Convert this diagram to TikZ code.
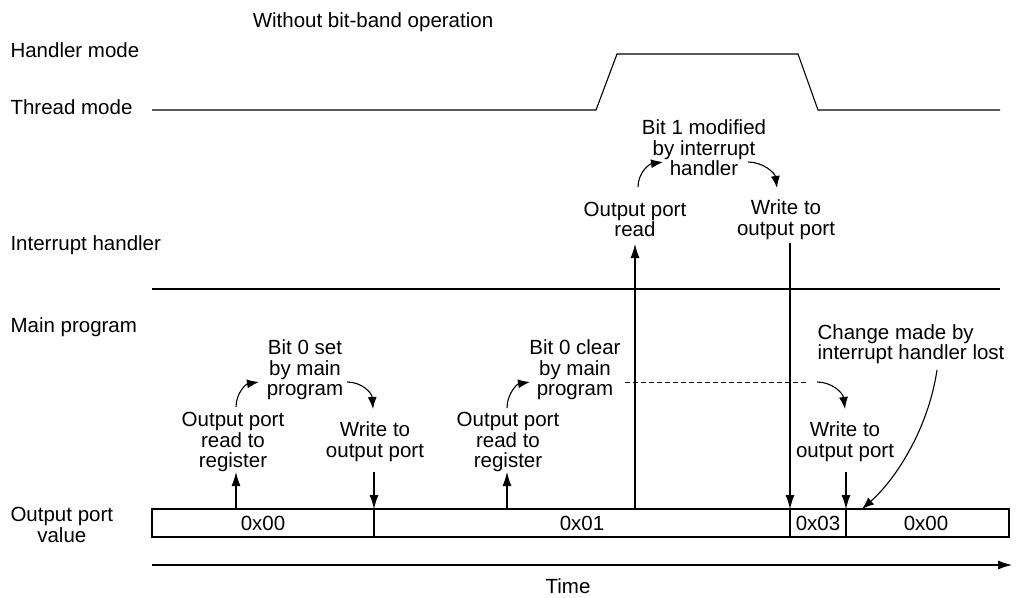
\documentclass[tikz,border=0pt]{standalone}
\usepackage{fontspec}
\setmainfont{Liberation Sans}
\usetikzlibrary{arrows.meta}
\begin{document}
\begin{tikzpicture}[x=1pt,y=-1pt,
  font=\fontsize{20.5}{20.5}\selectfont,
  line width=1.1pt,
  txt/.style={inner sep=0pt, align=center},
  lefttxt/.style={inner sep=0pt, anchor=west, align=left},
  varrow/.style={-{Latex[length=14pt,width=9pt]}},
  carrow/.style={-{Latex[length=12pt,width=9pt]}},
  dashline/.style={dashed, dash pattern=on 5pt off 3pt, line width=0.8pt}]
\useasboundingbox (0,0) rectangle (1016,597);

% left labels and title
\node[txt] (title) at (373,22) {Without bit-band operation};
\node[lefttxt] (hm) at (10,50) {Handler mode};
\node[lefttxt] (tm) at (10,107) {Thread mode};
\node[lefttxt] (ih) at (10,245) {Interrupt handler};
\node[lefttxt] (mp) at (10,327) {Main program};
\node[txt, anchor=west] (opv) at (10,525) {Output port\\value};

% mode line
\draw (152,110) -- (596,110) -- (617,54) -- (798,54) -- (818,110) -- (1000,110);
% separator
\draw (152,289) -- (1000,289);

% output port value box
\draw (152,509) rectangle (1009,537);
\draw (374,509) -- (374,537);
\draw (790,509) -- (790,537);
\draw (846,509) -- (846,537);
\node[txt] (v1) at (263,523) {0x00};
\node[txt] (v2) at (582,523) {0x01};
\node[txt] (v3) at (818,523) {0x03};
\node[txt] (v4) at (926,523) {0x00};

% time axis
\coordinate (t0) at (152,565);
\coordinate (t1) at (1012,565);
\draw[varrow] (t0) -- (t1);
\node[txt] (time) at (568,586.5) {Time};

% first main-program group
\node[txt] (r1) at (233,442) {Output port\\read to\\register};
\node[txt] (b0s) at (305,370) {Bit 0 set\\by main\\program};
\node[txt] (w1) at (375,441.5) {Write to\\output port};
\coordinate (r1a) at (236,509);
\coordinate (r1b) at (236,472);
\draw[varrow] (r1a) -- (r1b);
\coordinate (w1a) at (374,472);
\coordinate (w1b) at (374,509);
\draw[varrow] (w1a) -- (w1b);
\coordinate (c1a) at (236,407);
\coordinate (c1b) at (259,382);
\draw[carrow] (c1a) .. controls (236,393) and (246,384) .. (c1b);
\coordinate (c2a) at (347,382);
\coordinate (c2b) at (373,409);
\draw[carrow] (c2a) .. controls (362,382) and (372,393) .. (c2b);

% second main-program group
\node[txt] (r2) at (508,442) {Output port\\read to\\register};
\node[txt] (b0c) at (575,370) {Bit 0 clear\\by main\\program};
\node[txt] (w2) at (845,441.5) {Write to\\output port};
\coordinate (r2a) at (507,509);
\coordinate (r2b) at (507,472);
\draw[varrow] (r2a) -- (r2b);
\coordinate (c3a) at (507,408);
\coordinate (c3b) at (530,382);
\draw[carrow] (c3a) .. controls (507,394) and (517,384) .. (c3b);
\coordinate (d0) at (625,382);
\coordinate (d1) at (807,382);
\draw[dashline] (d0) -- (d1);
\coordinate (c4a) at (817,382);
\coordinate (c4b) at (845,409);
\draw[carrow] (c4a) .. controls (832,382) and (843,393) .. (c4b);
\coordinate (w2a) at (846,472);
\coordinate (w2b) at (846,509);
\draw[varrow] (w2a) -- (w2b);

% interrupt handler group
\node[txt] (ir) at (635,219.5) {Output port\\read};
\node[txt] (iw) at (786,219.5) {Write to\\output port};
\node[txt] (b1) at (704,148) {Bit 1 modified\\by interrupt\\handler};
\coordinate (ira) at (635,509);
\coordinate (irb) at (635,244);
\draw[varrow] (ira) -- (irb);
\coordinate (iwa) at (790,243);
\coordinate (iwb) at (790,509);
\draw[varrow] (iwa) -- (iwb);
\coordinate (c5a) at (638,187);
\coordinate (c5b) at (663,162);
\draw[carrow] (c5a) .. controls (638,173) and (649,164) .. (c5b);
\coordinate (c6a) at (748,162);
\coordinate (c6b) at (777,188);
\draw[carrow] (c6a) .. controls (763,162) and (775,173) .. (c6b);

% lost change annotation
\node[lefttxt] (lost) at (817,344) {Change made by\\interrupt handler lost};
\coordinate (la) at (937,370);
\coordinate (lb) at (862,509);
\draw[carrow] (la) .. controls (928,430) and (895,480) .. (lb);
\end{tikzpicture}
\end{document}
